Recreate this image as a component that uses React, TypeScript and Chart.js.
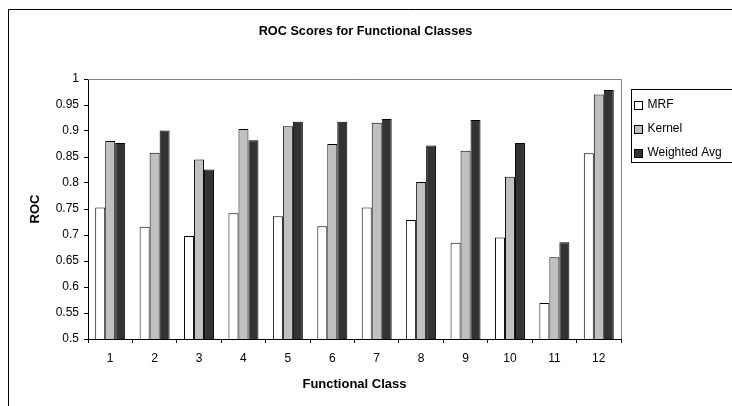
import React, { useEffect, useRef } from "react";
import { Chart, registerables } from "chart.js";

Chart.register(...registerables);

// ---- data ----
const categories = ["1", "2", "3", "4", "5", "6", "7", "8", "9", "10", "11", "12"];
const mrf = [0.753, 0.716, 0.698, 0.742, 0.736, 0.717, 0.753, 0.729, 0.685, 0.695, 0.569, 0.857];
const kernel = [0.881, 0.858, 0.845, 0.904, 0.909, 0.875, 0.916, 0.802, 0.862, 0.812, 0.657, 0.970];
const weightedAvg = [0.877, 0.901, 0.826, 0.882, 0.918, 0.918, 0.923, 0.872, 0.921, 0.877, 0.686, 0.979];
const seriesNames = ["MRF", "Kernel", "Weighted Avg"];
const seriesColors = ["#ffffff", "#c0c0c0", "#333333"];
const yMin = 0.5;
const yMax = 1;
const yStep = 0.05;
const titleText = "ROC Scores for Functional Classes";
const xTitleText = "Functional Class";
const yTitleText = "ROC";

const FONT = "'Liberation Sans', Arial, Helvetica, sans-serif";

const decorPlugin = {
  id: "decor",
  beforeDraw(chart: any) {
    const ctx = chart.ctx;
    ctx.save();
    ctx.fillStyle = "#ffffff";
    ctx.fillRect(0, 0, chart.width, chart.height);
    // outer chart frame
    ctx.strokeStyle = "#000000";
    ctx.lineWidth = 1;
    ctx.beginPath();
    ctx.moveTo(0.5, chart.height);
    ctx.lineTo(0.5, 1.5);
    ctx.lineTo(chart.width, 1.5);
    ctx.stroke();
    // chart title
    ctx.font = `bold 12.7px ${FONT}`;
    ctx.fillStyle = "#000000";
    ctx.textAlign = "center";
    ctx.textBaseline = "middle";
    ctx.fillText(titleText, 357.5, 23);
    ctx.restore();
  },
  beforeDatasetsDraw(chart: any) {
    const ctx = chart.ctx;
    const { left, top, right, bottom } = chart.chartArea;
    ctx.save();
    ctx.strokeStyle = "#808080";
    ctx.lineWidth = 1;
    ctx.beginPath();
    ctx.moveTo(left, Math.round(top) + 0.5);
    ctx.lineTo(Math.round(right) + 0.5, Math.round(top) + 0.5);
    ctx.lineTo(Math.round(right) + 0.5, bottom);
    ctx.stroke();
    ctx.restore();
  },
  afterDraw(chart: any) {
    const ctx = chart.ctx;
    const datasets = chart.data.datasets;
    const boxX = 623.5;
    const boxY = 81.5;
    const boxW = 200;
    const boxH = 73;
    const rowStart = 97;
    const rowGap = 23.8;
    ctx.save();
    ctx.strokeStyle = "#000000";
    ctx.lineWidth = 1;
    ctx.fillStyle = "#ffffff";
    ctx.fillRect(boxX, boxY, boxW, boxH);
    ctx.strokeRect(boxX, boxY, boxW, boxH);
    ctx.font = `12px ${FONT}`;
    ctx.textAlign = "left";
    ctx.textBaseline = "middle";
    datasets.forEach((ds: any, i: number) => {
      const cy = rowStart + i * rowGap;
      ctx.fillStyle = ds.backgroundColor;
      ctx.fillRect(626.5, Math.round(cy - 4) + 0.5, 8, 8);
      ctx.strokeStyle = "#000000";
      ctx.strokeRect(626.5, Math.round(cy - 4) + 0.5, 8, 8);
      ctx.fillStyle = "#000000";
      ctx.fillText(ds.label, 639.5, cy);
    });
    ctx.restore();
  },
};

export default function App() {
  const canvasRef = useRef<HTMLCanvasElement | null>(null);

  useEffect(() => {
    const canvas = canvasRef.current;
    if (!canvas) return;
    Chart.defaults.font.family = FONT;
    const seriesValues = [mrf, kernel, weightedAvg];
    const chart = new Chart(canvas, {
      type: "bar",
      data: {
        labels: categories,
        datasets: seriesNames.map((name, i) => ({
          label: name,
          data: seriesValues[i],
          backgroundColor: seriesColors[i],
          borderColor: "#000000",
          borderWidth: 1,
          barPercentage: 1,
          categoryPercentage: 0.675,
        })),
      },
      options: {
        responsive: false,
        animation: false,
        devicePixelRatio: 1,
        layout: { padding: { top: 71, right: 187, bottom: 0, left: 0 } },
        plugins: {
          legend: { display: false },
          title: { display: false },
          tooltip: { enabled: false },
        },
        scales: {
          x: {
            grid: {
              display: true,
              drawOnChartArea: false,
              drawTicks: true,
              tickLength: 4,
              color: "#000000",
              offset: true,
            },
            border: { display: true, color: "#000000" },
            ticks: {
              color: "#000000",
              font: { size: 12 },
              padding: 8,
              maxRotation: 0,
              autoSkip: false,
            },
            title: {
              display: true,
              text: xTitleText,
              color: "#000000",
              font: { size: 13, weight: "bold" },
              padding: { top: 0, bottom: 14 },
            },
            afterFit: (scale: any) => {
              scale.height = 67;
            },
          },
          y: {
            min: yMin,
            max: yMax,
            grid: {
              display: true,
              drawOnChartArea: false,
              drawTicks: true,
              tickLength: 4,
              color: "#000000",
            },
            border: { display: true, color: "#000000" },
            ticks: {
              stepSize: yStep,
              color: "#000000",
              font: { size: 12 },
              padding: 5,
              callback: (v: any) => String(Number(Number(v).toFixed(2))),
            },
            title: {
              display: true,
              text: yTitleText,
              color: "#000000",
              font: { size: 13, weight: "bold" },
              padding: { top: 20, bottom: 0 },
            },
            afterFit: (scale: any) => {
              scale.width = 80;
            },
          },
        },
      } as any,
      plugins: [decorPlugin],
    });
    return () => chart.destroy();
  }, []);

  return (
    <div
      style={{
        position: "fixed",
        left: 8,
        top: 8,
        width: 724,
        height: 398,
        overflow: "hidden",
        background: "#ffffff",
      }}
    >
      <canvas ref={canvasRef} width={800} height={398} style={{ display: "block", width: 800, height: 398 }} />
    </div>
  );
}
